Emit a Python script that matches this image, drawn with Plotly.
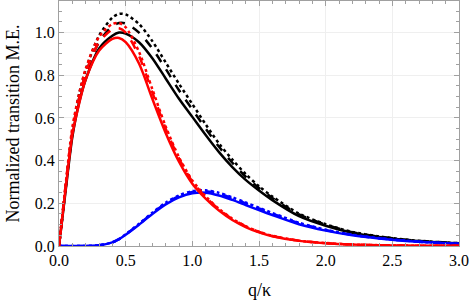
import plotly.graph_objects as go

# q/kappa sample positions
q = [0.0, 0.025, 0.05, 0.1, 0.15, 0.2, 0.3, 0.4, 0.45, 0.5, 0.6, 0.7, 0.8, 0.9, 1.0,
     1.1, 1.2, 1.3, 1.4, 1.5, 1.6, 1.8, 2.0, 2.2, 2.4, 2.6, 2.8, 3.0]

black_solid = [0.0, 0.13, 0.26, 0.51, 0.67, 0.78, 0.925, 0.985, 1.0, 0.995, 0.955, 0.88, 0.785, 0.69, 0.605,
               0.52, 0.44, 0.37, 0.31, 0.26, 0.215, 0.14, 0.095, 0.062, 0.042, 0.028, 0.019, 0.013]
black_dash = [0.0, 0.135, 0.27, 0.525, 0.69, 0.805, 0.955, 1.03, 1.045, 1.043, 1.0, 0.925, 0.83, 0.73, 0.64,
              0.55, 0.465, 0.39, 0.325, 0.272, 0.225, 0.148, 0.1, 0.065, 0.044, 0.029, 0.02, 0.013]
black_dot = [0.0, 0.14, 0.28, 0.54, 0.71, 0.825, 0.985, 1.07, 1.088, 1.085, 1.04, 0.96, 0.86, 0.76, 0.665,
             0.57, 0.48, 0.405, 0.337, 0.28, 0.232, 0.152, 0.102, 0.066, 0.045, 0.03, 0.02, 0.013]

red_solid = [0.0, 0.135, 0.27, 0.52, 0.665, 0.78, 0.915, 0.97, 0.975, 0.955, 0.855, 0.69, 0.53, 0.395, 0.292,
             0.222, 0.166, 0.122, 0.089, 0.064, 0.046, 0.024, 0.013, 0.007, 0.004, 0.002, 0.001, 0.001]
red_dash = [0.0, 0.14, 0.28, 0.54, 0.69, 0.81, 0.955, 1.015, 1.02, 1.0, 0.89, 0.72, 0.55, 0.41, 0.302,
            0.229, 0.171, 0.126, 0.092, 0.066, 0.047, 0.025, 0.013, 0.007, 0.004, 0.002, 0.001, 0.001]
red_dot = [0.0, 0.145, 0.29, 0.555, 0.71, 0.83, 0.98, 1.04, 1.045, 1.025, 0.91, 0.735, 0.56, 0.416, 0.307,
           0.233, 0.174, 0.128, 0.093, 0.067, 0.048, 0.025, 0.014, 0.007, 0.004, 0.002, 0.001, 0.001]

blue_solid = [0.0, 0.0, 0.0, 0.0, 0.0, 0.0005, 0.003, 0.017, 0.032, 0.053, 0.1, 0.15, 0.195, 0.228, 0.247,
              0.25, 0.237, 0.216, 0.192, 0.168, 0.145, 0.102, 0.072, 0.05, 0.035, 0.024, 0.016, 0.01]
blue_dash = [0.0, 0.0, 0.0, 0.0, 0.0, 0.0005, 0.003, 0.017, 0.032, 0.054, 0.102, 0.153, 0.2, 0.234, 0.253,
             0.257, 0.245, 0.224, 0.2, 0.176, 0.152, 0.107, 0.075, 0.052, 0.036, 0.025, 0.016, 0.01]
blue_dot = [0.0, 0.0, 0.0, 0.0, 0.0, 0.0005, 0.003, 0.017, 0.032, 0.055, 0.104, 0.156, 0.203, 0.237, 0.257,
            0.261, 0.249, 0.228, 0.204, 0.179, 0.155, 0.109, 0.076, 0.053, 0.037, 0.025, 0.016, 0.01]

x_title = "q/κ"
y_title = "Normalized transition M.E."

series = [
    (black_dot, "black", "dot"),
    (black_dash, "black", "dash"),
    (black_solid, "black", "solid"),
    (blue_dot, "#0000ff", "dot"),
    (blue_dash, "#0000ff", "dash"),
    (blue_solid, "#0000ff", "solid"),
    (red_dot, "#ff0000", "dot"),
    (red_dash, "#ff0000", "dash"),
    (red_solid, "#ff0000", "solid"),
]

SERIF = "Liberation Serif, Times New Roman, Times, serif"
W, H = 469, 306
ML, MR, MT, MB = 59, 10, 1, 60
PW, PH = W - ML - MR, H - MT - MB

fig = go.Figure()
for ys, col, dash in series:
    fig.add_trace(go.Scatter(x=q, y=ys, mode="lines",
                             line=dict(color=col, width=2.5, dash=dash, shape="spline", smoothing=0.8),
                             showlegend=False, hoverinfo="skip"))

axis_common = dict(
    showline=True, linecolor="#a0a0a0", linewidth=1, mirror="ticks",
    ticks="inside", ticklen=5, tickcolor="#a0a0a0", tickwidth=1,
    showgrid=True, gridcolor="#efefef", gridwidth=1, zeroline=False,
    tickfont=dict(family=SERIF, size=16, color="black"),
    automargin=False,
)

fig.update_layout(
    width=W, height=H,
    margin=dict(l=ML, r=MR, t=MT, b=MB),
    paper_bgcolor="white", plot_bgcolor="white",
    font=dict(family=SERIF),
    xaxis=dict(range=[0, 3.0], dtick=0.5, tickformat=".1f",
               minor=dict(dtick=0.1, ticks="inside", ticklen=3, tickcolor="#a0a0a0", showgrid=False),
               **axis_common),
    yaxis=dict(range=[0, 1.148], dtick=0.2, tickformat=".1f",
               minor=dict(dtick=0.05, ticks="inside", ticklen=3, tickcolor="#a0a0a0", showgrid=False),
               **axis_common),
)
fig.add_annotation(text=x_title, xref="paper", yref="paper", x=0.5, y=-(290 - 246) / PH,
                   showarrow=False, font=dict(family=SERIF, size=18, color="black"),
                   xanchor="center", yanchor="middle")
fig.add_annotation(text=y_title, xref="paper", yref="paper", x=-(ML - 12) / PW, y=0.5,
                   textangle=-90, showarrow=False, font=dict(family=SERIF, size=18, color="black"),
                   xanchor="center", yanchor="middle")

fig.write_html("out.html", config={"displayModeBar": False},
               post_script="document.body.style.margin='0';document.body.style.padding='0';")
